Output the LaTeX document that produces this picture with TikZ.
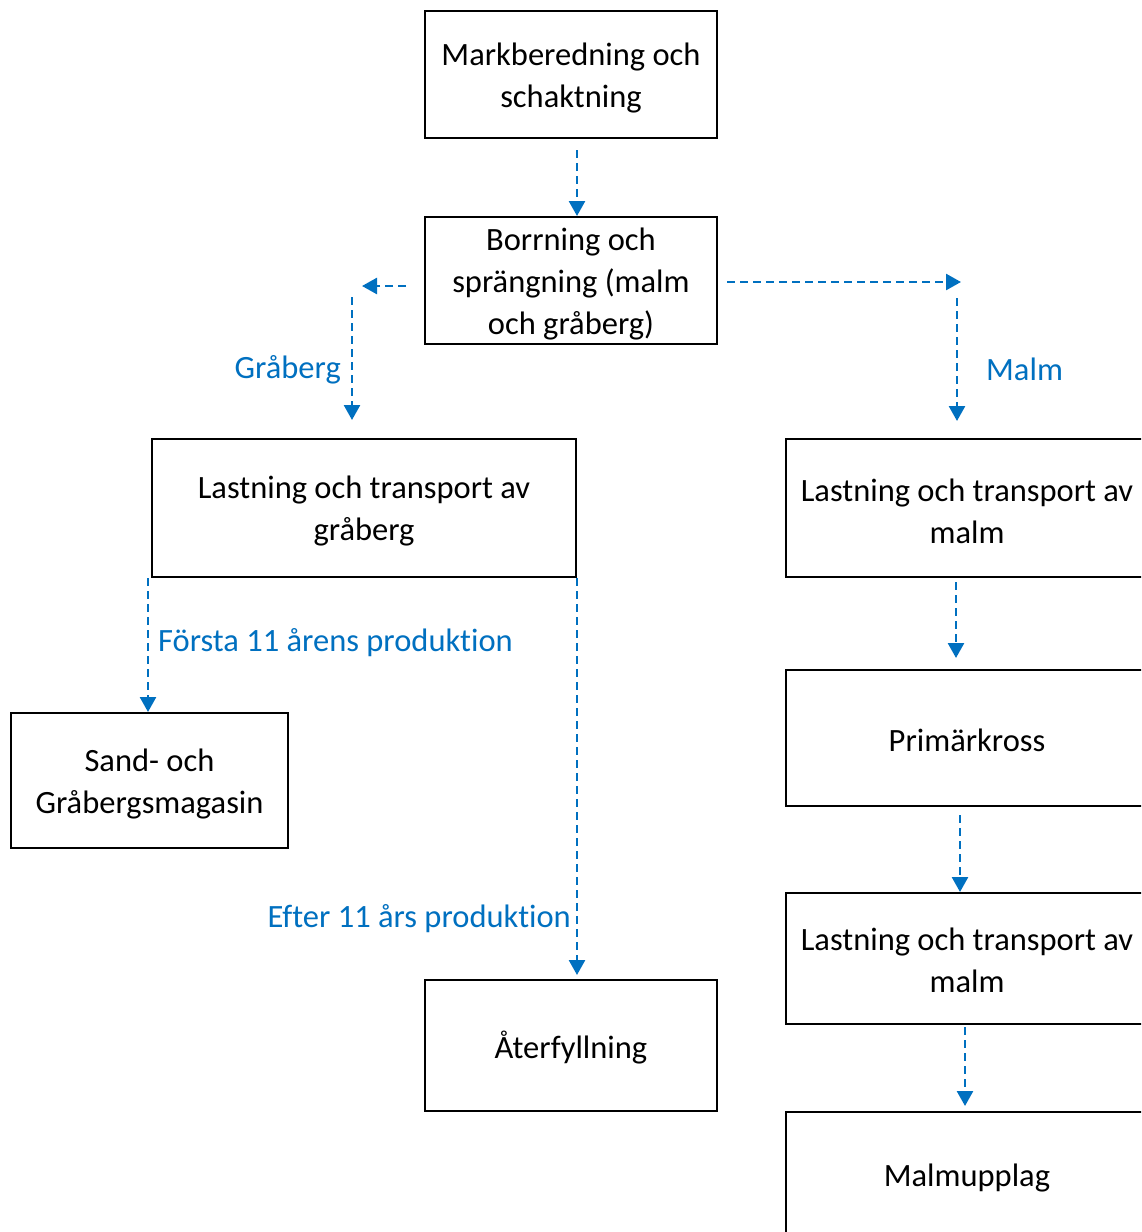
\documentclass[tikz,border=0pt]{standalone}
\usepackage{fontspec}
\setmainfont{Carlito}[Ligatures=NoCommon]
\usetikzlibrary{arrows.meta}
\definecolor{flowblue}{HTML}{0070C0}
\begin{document}
\begin{tikzpicture}[x=1pt,y=-1pt,
  box/.style={draw=black,line width=1.8pt,inner sep=0pt},
  boxtxt/.style={align=center,inner sep=0pt,font=\fontsize{32.5}{42}\selectfont},
  flow/.style={draw=flowblue,line width=2.6pt,dash pattern=on 8pt off 5pt,
    -{Triangle[width=16pt,length=15pt]}},
  lbl/.style={text=flowblue,font=\fontsize{32.5}{42}\selectfont,inner sep=0pt}]
\useasboundingbox (0,0) rectangle (1141,1232);
\clip (0,0) rectangle (1141,1232);
\fill[white] (0,0) rectangle (1141,1232);
% boxes
\node[box,minimum width=292pt,minimum height=127pt] (mark) at (571,74.5) {};
\node[box,minimum width=292pt,minimum height=127pt] (borr) at (571,280.5) {};
\node[box,minimum width=424pt,minimum height=138pt] (lgr) at (364,508) {};
\node[box,minimum width=362pt,minimum height=138pt] (lm1) at (967,508) {};
\node[box,minimum width=277pt,minimum height=135pt] (sand) at (149.5,780.5) {};
\node[box,minimum width=292pt,minimum height=131pt] (ater) at (571,1045.5) {};
\node[box,minimum width=362pt,minimum height=136pt] (prim) at (967,738) {};
\node[box,minimum width=362pt,minimum height=131pt] (lm2) at (967,958.5) {};
\node[box,minimum width=362pt,minimum height=128pt] (upp) at (967,1176) {};
% box texts
\node[boxtxt] (markt) at ([yshift=-4pt]mark.center) {Markberedning och\\schaktning};
\node[boxtxt] (borrt) at ([yshift=-4pt]borr.center) {Borrning och\\sprängning (malm\\och gråberg)};
\node[boxtxt] (lgrt) at ([yshift=-3pt]lgr.center) {Lastning och transport av\\gråberg};
\node[boxtxt] (lm1t) at ([yshift=-3pt]lm1.center) {Lastning och transport av\\malm};
\node[boxtxt] (sandt) at ([yshift=-3pt]sand.center) {Sand- och\\Gråbergsmagasin};
\node[boxtxt] (atert) at ([yshift=-2pt]ater.center) {Återfyllning};
\node[boxtxt] (primt) at ([yshift=-2pt]prim.center) {Primärkross};
\node[boxtxt] (lm2t) at ([yshift=-2pt]lm2.center) {Lastning och transport av\\malm};
\node[boxtxt] (uppt) at ([yshift=-2pt]upp.center) {Malmupplag};
% helper coordinates
\coordinate (a1s) at (577,150);
\coordinate (a1e) at (577,216);
\coordinate (gls) at (406,286);
\coordinate (gle) at (362,286);
\coordinate (gvs) at (352,297);
\coordinate (gve) at (352,420);
\coordinate (mhs) at (727,282);
\coordinate (mhe) at (961,282);
\coordinate (mvs) at (957,298);
\coordinate (mve) at (957,421);
\coordinate (fs) at (148,578);
\coordinate (fe) at (148,712);
\coordinate (es) at (577,578);
\coordinate (ee) at (577,975);
\coordinate (p1s) at (956,582);
\coordinate (p1e) at (956,658);
\coordinate (p2s) at (960,815);
\coordinate (p2e) at (960,892);
\coordinate (p3s) at (965,1027);
\coordinate (p3e) at (965,1106);
% connectors
\draw[flow] (a1s) -- (a1e);
\draw[flow] (gls) -- (gle);
\draw[flow] (gvs) -- (gve);
\draw[flow] (mhs) -- (mhe);
\draw[flow] (mvs) -- (mve);
\draw[flow] (fs) -- (fe);
\draw[flow] (es) -- (ee);
\draw[flow] (p1s) -- (p1e);
\draw[flow] (p2s) -- (p2e);
\draw[flow] (p3s) -- (p3e);
% labels
\node[lbl,anchor=east] (lgra) at (341,370) {Gråberg};
\node[lbl,anchor=west] (lmalm) at (986,369) {Malm};
\node[lbl,anchor=west] (lfor) at (158,643) {Första 11 årens produktion};
\node[lbl,anchor=east] (lefter) at (571,919) {Efter 11 års produktion};
\end{tikzpicture}
\end{document}
